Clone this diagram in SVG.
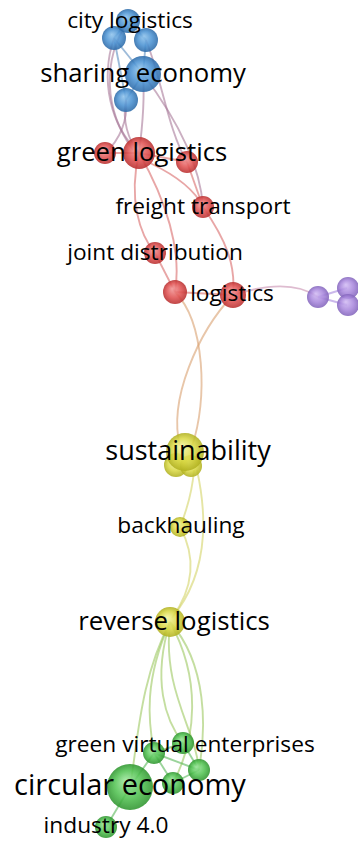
<svg xmlns="http://www.w3.org/2000/svg" width="358" height="843" viewBox="0 0 358 843">
<defs>
<radialGradient id="gB" cx="0.5" cy="0.5" r="0.5" fx="0.4" fy="0.35"><stop offset="0" stop-color="#8fc3ec"/><stop offset="0.6" stop-color="#4b92d2"/><stop offset="1" stop-color="#2c6aa8"/></radialGradient>
<radialGradient id="gR" cx="0.5" cy="0.5" r="0.5" fx="0.4" fy="0.35"><stop offset="0" stop-color="#f29a9a"/><stop offset="0.6" stop-color="#e05252"/><stop offset="1" stop-color="#b82e2e"/></radialGradient>
<radialGradient id="gY" cx="0.5" cy="0.5" r="0.5" fx="0.4" fy="0.35"><stop offset="0" stop-color="#f4f4a0"/><stop offset="0.6" stop-color="#d9d845"/><stop offset="1" stop-color="#b0b020"/></radialGradient>
<radialGradient id="gG" cx="0.5" cy="0.5" r="0.5" fx="0.4" fy="0.35"><stop offset="0" stop-color="#9ee69e"/><stop offset="0.6" stop-color="#52c252"/><stop offset="1" stop-color="#2e942e"/></radialGradient>
<radialGradient id="gP" cx="0.5" cy="0.5" r="0.5" fx="0.4" fy="0.35"><stop offset="0" stop-color="#d2bcf4"/><stop offset="0.6" stop-color="#a887dc"/><stop offset="1" stop-color="#8264bb"/></radialGradient>
</defs>
<style>
.e{fill:none;stroke-width:1.9;stroke-opacity:0.6}
.bb{stroke:#5c8ec0}.br{stroke:#a87a9a}.rr{stroke:#d86a6a}.ry{stroke:#d8a070}.yy{stroke:#d4d468}.yg{stroke:#9cc860}.gg{stroke:#58b858}.rp{stroke:#c890b0}.pp{stroke:#a888dd}
.nb{fill:url(#gB)}.nr{fill:url(#gR)}.ny{fill:url(#gY)}.ng{fill:url(#gG)}.np{fill:url(#gP)}
circle{fill-opacity:0.88}
text{font-family:"Open Sans","Noto Sans","DejaVu Sans",sans-serif;fill:#000;text-anchor:middle}
.s{font-size:22.7px}
</style>
<rect width="358" height="843" fill="#fff"/>
<g id="edges">
<path class="e bb" d="M128,21 L114,38"/>
<path class="e bb" d="M128,21 L146,40"/>
<path class="e bb" d="M114,38 L143,74"/>
<path class="e bb" d="M146,40 L143,74"/>
<path class="e bb" d="M143,74 L126,100"/>
<path class="e bb" d="M114,38 L126,100"/>
<path class="e br" d="M114,38 C100,80 110,125 139,153"/>
<path class="e br" d="M128,21 C102,60 104,110 133,150"/>
<path class="e br" d="M126,100 C122,120 128,140 139,153"/>
<path class="e br" d="M143,74 C145,100 142,130 139,153"/>
<path class="e br" d="M146,40 C162,80 168,130 187,162"/>
<path class="e br" d="M143,74 C170,110 200,160 203,207"/>
<path class="e br" d="M126,100 C128,120 120,140 105,153"/>
<path class="e rr" d="M139,153 L105,153"/>
<path class="e rr" d="M139,153 L187,162"/>
<path class="e rr" d="M139,153 C128,200 140,235 155,253"/>
<path class="e rr" d="M155,253 L175,292"/>
<path class="e rr" d="M139,153 C166,200 182,250 175,292"/>
<path class="e rr" d="M187,162 L203,207"/>
<path class="e rr" d="M150,163 C175,175 195,190 203,207"/>
<path class="e rr" d="M203,207 C226,240 236,265 233,295"/>
<path class="e rr" d="M175,292 L233,295"/>
<path class="e rp" d="M233,295 C270,283 298,283 318,297"/>
<path class="e pp" d="M318,297 L347,288"/>
<path class="e pp" d="M318,297 L347,305"/>
<path class="e ry" d="M175,292 C205,322 208,400 192,446"/>
<path class="e ry" d="M233,295 C198,332 168,400 180,446"/>
<path class="e yy" d="M194,470 C192,495 186,512 180,527"/>
<path class="e yy" d="M180,527 C198,560 192,590 172,618"/>
<path class="e yy" d="M197,470 C208,520 206,570 178,610"/>
<path class="e yg" d="M170,622 C140,680 138,740 130,787"/>
<path class="e yg" d="M170,622 C144,680 148,720 154,753"/>
<path class="e yg" d="M170,622 C152,680 165,720 183,743"/>
<path class="e yg" d="M170,622 C162,690 196,730 199,770"/>
<path class="e yg" d="M170,622 C202,680 196,740 173,783"/>
<path class="e yg" d="M170,622 C208,665 206,730 199,770"/>
<path class="e gg" d="M130,787 L154,753"/>
<path class="e gg" d="M154,753 L183,743"/>
<path class="e gg" d="M183,743 L199,770"/>
<path class="e gg" d="M154,753 L199,770"/>
<path class="e gg" d="M173,783 L199,770"/>
<path class="e gg" d="M154,753 L173,783"/>
<path class="e gg" d="M130,787 L106,827"/>
</g>
<g id="n-blue-left"><circle class="nb" cx="114" cy="38" r="12"/></g>
<g id="n-blue-right"><circle class="nb" cx="146" cy="40" r="12"/></g>
<g id="n-blue-bottom"><circle class="nb" cx="126" cy="100" r="12"/></g>
<g id="n-red-left"><circle class="nr" cx="105" cy="153" r="11"/></g>
<g id="n-red-right"><circle class="nr" cx="187" cy="162" r="11"/></g>
<g id="n-red-low"><circle class="nr" cx="175" cy="292" r="12"/></g>
<g id="n-purple-1"><circle class="np" cx="318" cy="297" r="11"/></g>
<g id="n-purple-2"><circle class="np" cx="348" cy="288" r="11"/></g>
<g id="n-purple-3"><circle class="np" cx="348" cy="305" r="11"/></g>
<g id="n-yellow-a"><circle class="ny" cx="176" cy="465" r="12"/></g>
<g id="n-yellow-b"><circle class="ny" cx="191" cy="466" r="11"/></g>
<g id="n-green-a"><circle class="ng" cx="154" cy="753" r="11"/></g>
<g id="n-green-b"><circle class="ng" cx="199" cy="770" r="11"/></g>
<g id="n-green-c"><circle class="ng" cx="173" cy="783" r="11"/></g>
<g id="n-city-logistics"><circle class="nb" cx="128" cy="21" r="12"/><text class="s" x="130" y="28">city logistics</text></g>
<g id="n-sharing-economy"><circle class="nb" cx="143" cy="74" r="18"/><text x="143" y="82" font-size="25.7">sharing economy</text></g>
<g id="n-green-logistics"><circle class="nr" cx="139" cy="153" r="16"/><text x="142" y="161" font-size="25.7">green logistics</text></g>
<g id="n-freight-transport"><circle class="nr" cx="203" cy="207" r="11"/><text class="s" x="203" y="214">freight transport</text></g>
<g id="n-joint-distribution"><circle class="nr" cx="155" cy="253" r="11"/><text class="s" x="155" y="260">joint distribution</text></g>
<g id="n-logistics"><circle class="nr" cx="233" cy="295" r="13"/><text class="s" x="232" y="301">logistics</text></g>
<g id="n-sustainability"><circle class="ny" cx="185" cy="452" r="19"/><text x="188" y="460" font-size="27">sustainability</text></g>
<g id="n-backhauling"><circle class="ny" cx="180" cy="527" r="10"/><text class="s" x="181" y="533">backhauling</text></g>
<g id="n-reverse-logistics"><circle class="ny" cx="170" cy="622" r="15"/><text x="174" y="630" font-size="25.8">reverse logistics</text></g>
<g id="n-green-virtual-enterprises"><circle class="ng" cx="183" cy="743" r="11"/><text class="s" x="185" y="752">green virtual enterprises</text></g>
<g id="n-circular-economy"><circle class="ng" cx="130" cy="787" r="23"/><text x="130" y="795" font-size="29">circular economy</text></g>
<g id="n-industry-4"><circle class="ng" cx="106" cy="827" r="11"/><text class="s" x="106" y="833">industry 4.0</text></g>
</svg>
